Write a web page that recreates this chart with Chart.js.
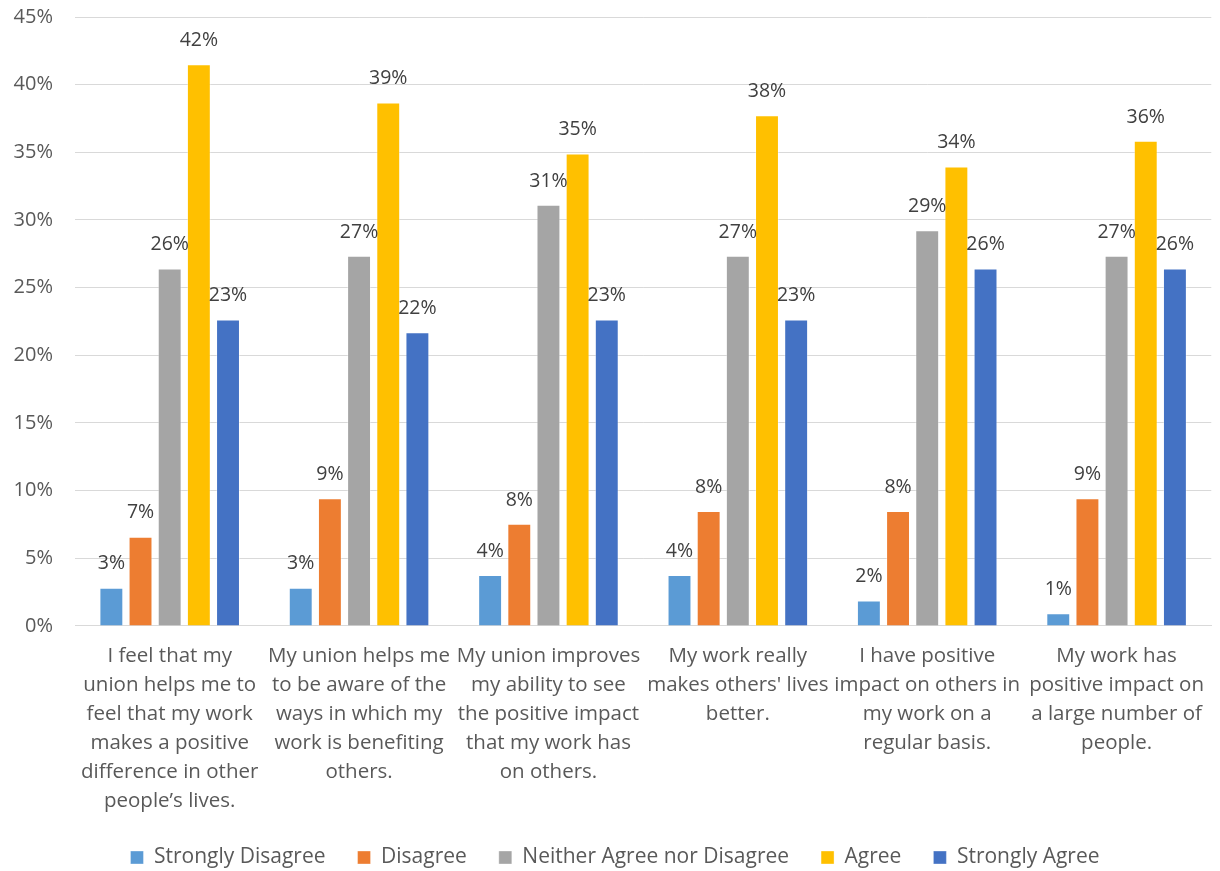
<!DOCTYPE html>
<html>
<head>
<meta charset="utf-8">
<script src="https://cdn.jsdelivr.net/npm/chart.js@4/dist/chart.umd.min.js"></script>
<style>
  html, body { margin: 0; padding: 0; background: #fff; }
  #wrap { width: 1220px; height: 871px; }
</style>
</head>
<body>
<div id="wrap"><canvas id="bar-chart"></canvas></div>
<script>
var categories = [
    ["I feel that my", "union helps me to", "feel that my work", "makes a positive", "difference in other", "people\u2019s lives."],
    ["My union helps me", "to be aware of the", "ways in which my", "work is benefiting", "others."],
    ["My union improves", "my ability to see", "the positive impact", "that my work has", "on others."],
    ["My work really", "makes others' lives", "better."],
    ["I have positive", "impact on others in", "my work on a", "regular basis."],
    ["My work has", "positive impact on", "a large number of", "people."]
]
var strongDisagree = [2.83, 2.83, 3.77, 3.77, 1.89, 0.94]
var disagree = [6.60, 9.43, 7.55, 8.49, 8.49, 9.43]
var neither = [26.42, 27.36, 31.13, 27.36, 29.25, 27.36]
var agree = [41.51, 38.68, 34.91, 37.74, 33.96, 35.85]
var strongAgree = [22.64, 21.70, 22.64, 22.64, 26.42, 26.42]
var yTicks = [0, 5, 10, 15, 20, 25, 30, 35, 40, 45]

var fontFamily = "'Open Sans', sans-serif"
var textColor = "#595959"

// draws the rounded value above every bar
var valueLabels = {
    id: 'valueLabels',
    afterDatasetsDraw: function(chart) {
        var ctx = chart.ctx
        ctx.save()
        ctx.font = "19.5px " + fontFamily
        ctx.fillStyle = "#404040"
        ctx.textAlign = 'center'
        ctx.textBaseline = 'bottom'
        chart.data.datasets.forEach(function(ds, i) {
            chart.getDatasetMeta(i).data.forEach(function(bar, j) {
                ctx.fillText(Math.round(ds.data[j]) + '%', bar.x, bar.y - 14)
            })
        })
        ctx.restore()
    }
}

new Chart(document.getElementById("bar-chart"), {
    type: 'bar',
    data: {
        labels: categories,
        datasets: [
            { label: "Strongly Disagree", data: strongDisagree, backgroundColor: "#5B9BD5" },
            { label: "Disagree", data: disagree, backgroundColor: "#ED7D31" },
            { label: "Neither Agree nor Disagree", data: neither, backgroundColor: "#A5A5A5" },
            { label: "Agree", data: agree, backgroundColor: "#FFC000" },
            { label: "Strongly Agree", data: strongAgree, backgroundColor: "#4472C4" }
        ]
    },
    options: {
        responsive: true,
        maintainAspectRatio: false,
        animation: false,
        datasets: {
            bar: {
                categoryPercentage: 0.77,
                barPercentage: 0.82,
                borderWidth: 1,
                borderColor: "rgba(255,255,255,0.35)"
            }
        },
        layout: { padding: { top: 0, right: 0, left: 10, bottom: -7 } },
        scales: {
            x: {
                // let the long labels run into the space above the legend
                afterFit: function(axis) { axis.height = axis.height - 17 },
                grid: { display: false, drawTicks: false },
                border: { color: "#d9d9d9", width: 1 },
                ticks: {
                    color: textColor,
                    font: { family: fontFamily, size: 20.5, lineHeight: 1.415 },
                    padding: 16,
                    maxRotation: 0,
                    autoSkip: false
                }
            },
            y: {
                min: 0,
                max: 45,
                afterBuildTicks: function(axis) {
                    axis.ticks = yTicks.map(function(v) { return { value: v } })
                },
                afterFit: function(axis) { axis.width = 65 },
                grid: { color: "#d9d9d9", lineWidth: 1, drawTicks: true, tickLength: 17, tickColor: "rgba(0,0,0,0)" },
                border: { display: false },
                ticks: {
                    color: textColor,
                    font: { family: fontFamily, size: 20 },
                    padding: 5,
                    callback: function(v) { return v + '%' }
                }
            }
        },
        plugins: {
            legend: {
                position: 'bottom',
                labels: {
                    color: textColor,
                    font: { family: fontFamily, size: 21 },
                    boxWidth: 13,
                    boxHeight: 13,
                    padding: 32
                }
            },
            tooltip: { enabled: false }
        }
    },
    plugins: [valueLabels]
});
</script>
</body>
</html>
